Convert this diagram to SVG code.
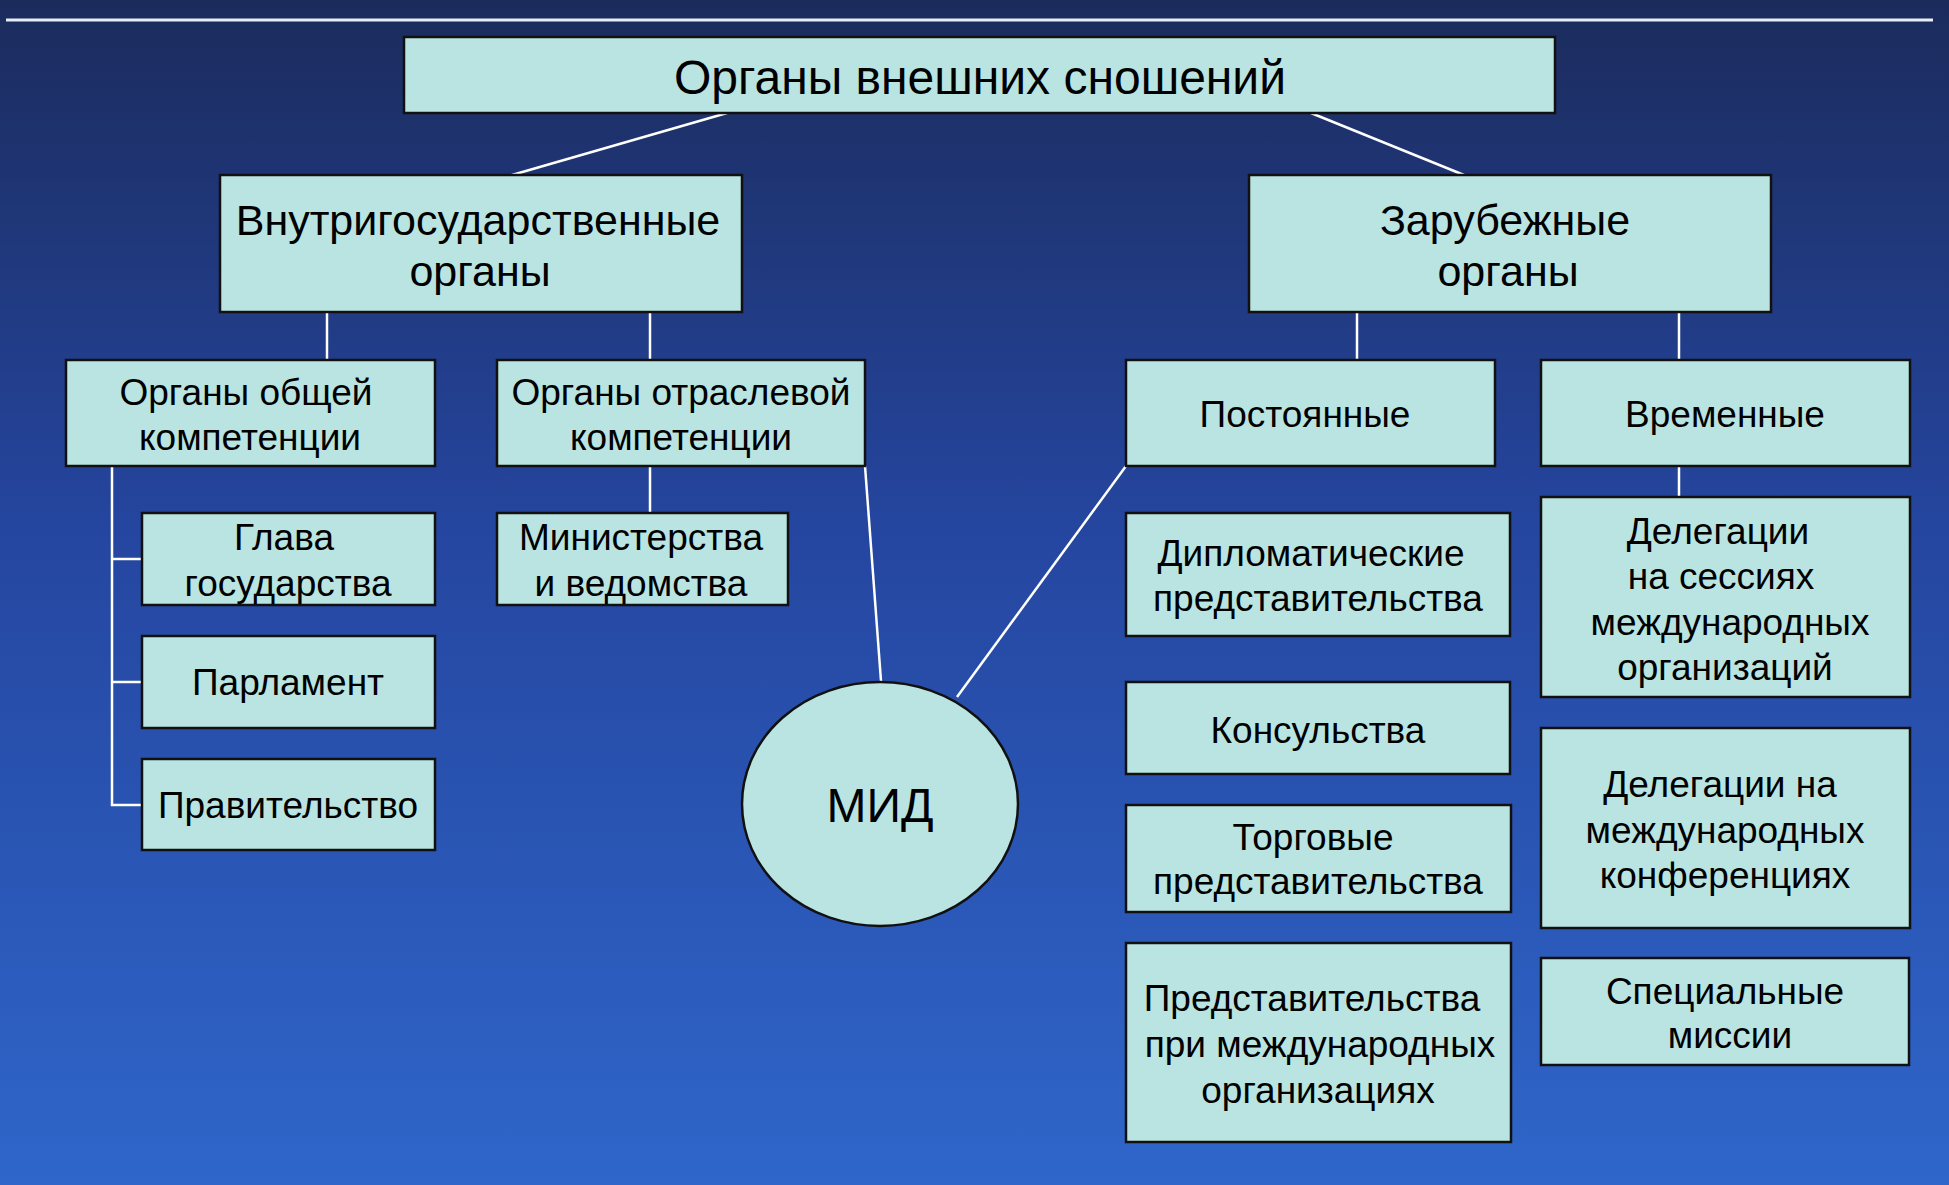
<svg xmlns="http://www.w3.org/2000/svg" width="1949" height="1185" viewBox="0 0 1949 1185">
<defs>
<linearGradient id="bg" x1="0" y1="0" x2="0" y2="1">
<stop offset="0" stop-color="#1b2b5c"/>
<stop offset="0.45" stop-color="#2546a0"/>
<stop offset="1" stop-color="#2f66ca"/>
</linearGradient>
<style>
.box{fill:#b9e4e1;stroke:#111;stroke-width:2.5}
.t{font-family:"Liberation Sans",Arial,sans-serif;fill:#000;text-anchor:middle;dominant-baseline:central}
.t48{font-size:48px}
.t43{font-size:43px}
.t37{font-size:37px}
.c{stroke:#fff;stroke-width:2.5;fill:none}
</style>
</defs>
<rect width="1949" height="1185" fill="url(#bg)"/>
<line x1="6" y1="20" x2="1933" y2="20" stroke="#e8eef8" stroke-width="3"/>

<g id="connectors">
<line class="c" x1="727" y1="113" x2="512" y2="175"/>
<line class="c" x1="1311" y1="113" x2="1464" y2="175"/>
<line class="c" x1="327" y1="312" x2="327" y2="360"/>
<line class="c" x1="650" y1="312" x2="650" y2="360"/>
<line class="c" x1="1357" y1="312" x2="1357" y2="360"/>
<line class="c" x1="1679" y1="312" x2="1679" y2="360"/>
<polyline class="c" points="112,466 112,805 142,805"/>
<line class="c" x1="112" y1="559" x2="142" y2="559"/>
<line class="c" x1="112" y1="682" x2="142" y2="682"/>
<line class="c" x1="650" y1="466" x2="650" y2="513"/>
<line class="c" x1="865" y1="466" x2="881" y2="681"/>
<line class="c" x1="1126" y1="466" x2="957" y2="697"/>
<line class="c" x1="1679" y1="466" x2="1679" y2="497"/>
</g>

<g id="root">
<rect class="box" x="404" y="37" width="1151" height="76"/>
<text class="t t48" x="980" y="77">Органы внешних сношений</text>
</g>
<g id="domestic">
<rect class="box" x="220" y="175" width="522" height="137"/>
<text class="t t43" x="478" y="220">Внутригосударственные</text>
<text class="t t43" x="480" y="271">органы</text>
</g>
<g id="foreign">
<rect class="box" x="1249" y="175" width="522" height="137"/>
<text class="t t43" x="1505" y="220">Зарубежные</text>
<text class="t t43" x="1508" y="271">органы</text>
</g>
<g id="general">
<rect class="box" x="66" y="360" width="369" height="106"/>
<text class="t t37" x="246" y="392">Органы общей</text>
<text class="t t37" x="250" y="437">компетенции</text>
</g>
<g id="sectoral">
<rect class="box" x="497" y="360" width="368" height="106"/>
<text class="t t37" x="681" y="392">Органы отраслевой</text>
<text class="t t37" x="681" y="437">компетенции</text>
</g>
<g id="head">
<rect class="box" x="142" y="513" width="293" height="92"/>
<text class="t t37" x="284" y="537">Глава</text>
<text class="t t37" x="288" y="583">государства</text>
</g>
<g id="parliament">
<rect class="box" x="142" y="636" width="293" height="92"/>
<text class="t t37" x="288" y="682">Парламент</text>
</g>
<g id="government">
<rect class="box" x="142" y="759" width="293" height="91"/>
<text class="t t37" x="288" y="805">Правительство</text>
</g>
<g id="ministries">
<rect class="box" x="497" y="513" width="291" height="92"/>
<text class="t t37" x="641" y="537">Министерства</text>
<text class="t t37" x="641" y="583">и ведомства</text>
</g>
<g id="mid">
<ellipse class="box" cx="880" cy="804" rx="138" ry="122"/>
<text class="t t48" x="880" y="805">МИД</text>
</g>
<g id="permanent">
<rect class="box" x="1126" y="360" width="369" height="106"/>
<text class="t t37" x="1305" y="414">Постоянные</text>
</g>
<g id="temporary">
<rect class="box" x="1541" y="360" width="369" height="106"/>
<text class="t t37" x="1725" y="414">Временные</text>
</g>
<g id="diplomatic">
<rect class="box" x="1126" y="513" width="384" height="123"/>
<text class="t t37" x="1311" y="553">Дипломатические</text>
<text class="t t37" x="1318" y="598">представительства</text>
</g>
<g id="consulates">
<rect class="box" x="1126" y="682" width="384" height="92"/>
<text class="t t37" x="1318" y="730">Консульства</text>
</g>
<g id="trade">
<rect class="box" x="1126" y="805" width="385" height="107"/>
<text class="t t37" x="1313" y="837">Торговые</text>
<text class="t t37" x="1318" y="881">представительства</text>
</g>
<g id="intorg">
<rect class="box" x="1126" y="943" width="385" height="199"/>
<text class="t t37" x="1312" y="998">Представительства</text>
<text class="t t37" x="1320" y="1044">при международных</text>
<text class="t t37" x="1318" y="1090">организациях</text>
</g>
<g id="sessions">
<rect class="box" x="1541" y="497" width="369" height="200"/>
<text class="t t37" x="1718" y="531">Делегации</text>
<text class="t t37" x="1721" y="576">на сессиях</text>
<text class="t t37" x="1730" y="622">международных</text>
<text class="t t37" x="1725" y="667">организаций</text>
</g>
<g id="conferences">
<rect class="box" x="1541" y="728" width="369" height="200"/>
<text class="t t37" x="1720" y="784">Делегации на</text>
<text class="t t37" x="1725" y="830">международных</text>
<text class="t t37" x="1725" y="875">конференциях</text>
</g>
<g id="special">
<rect class="box" x="1541" y="958" width="368" height="107"/>
<text class="t t37" x="1725" y="991">Специальные</text>
<text class="t t37" x="1730" y="1035">миссии</text>
</g>
</svg>
